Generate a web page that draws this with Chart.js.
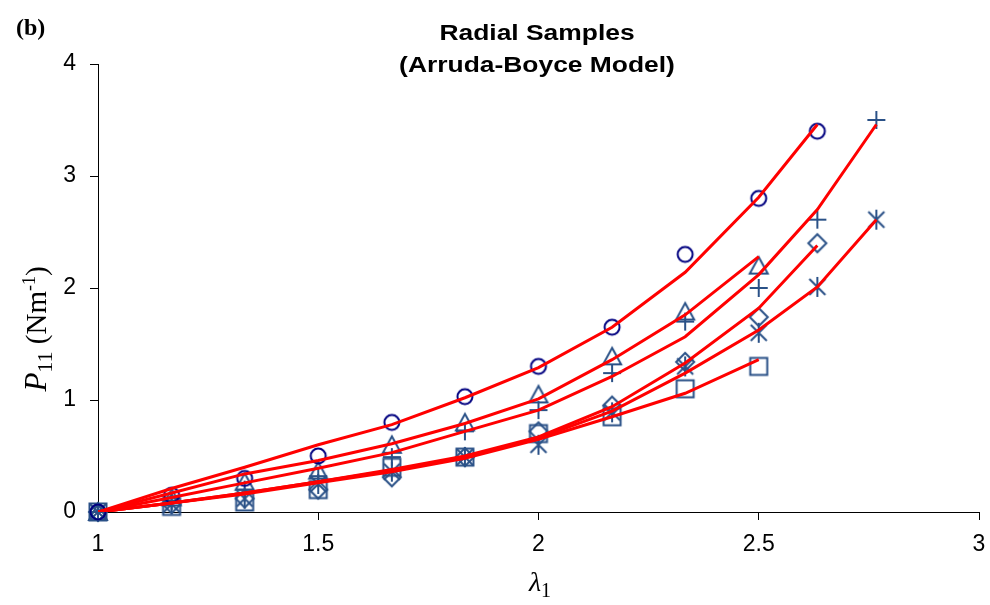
<!DOCTYPE html>
<html>
<head>
<meta charset="utf-8">
<script src="https://cdn.jsdelivr.net/npm/chart.js@4"></script>
<style>
  html, body { margin: 0; padding: 0; background: #fff; }
  #wrap { width: 990px; height: 605px; position: relative; }
</style>
</head>
<body>
<div id="wrap"><canvas id="myChart" width="990" height="605"></canvas></div>
<script>
// stretch ratio lambda_1 for each loading step
const lambdas = [1, 1.167, 1.333, 1.5, 1.667, 1.833, 2, 2.167, 2.333, 2.5, 2.633, 2.767];
const xTicks = [1, 1.5, 2, 2.5, 3];
const yTicks = [0, 1, 2, 3, 4];

// measured P11 (N/m) for each radial sample
const sampleCircle   = [0, 0.15, 0.30, 0.50, 0.80, 1.03, 1.30, 1.65, 2.30, 2.80, 3.40];
const sampleTriangle = [0, 0.13, 0.27, 0.37, 0.60, 0.80, 1.05, 1.39, 1.79, 2.20];
const samplePlus     = [0, 0.10, 0.20, 0.32, 0.49, 0.72, 0.91, 1.24, 1.70, 2.00, 2.61, 3.50];
const sampleDiamond  = [0, 0.07, 0.12, 0.20, 0.31, 0.49, 0.72, 0.95, 1.34, 1.74, 2.40];
const sampleStar     = [0, 0.07, 0.12, 0.25, 0.36, 0.49, 0.60, 0.89, 1.30, 1.60, 2.01, 2.61];
const sampleSquare   = [0, 0.05, 0.09, 0.20, 0.40, 0.49, 0.70, 0.85, 1.10, 1.30];

// Arruda-Boyce model fits
const fitCircle   = [0, 0.21, 0.40, 0.60, 0.78, 1.02, 1.29, 1.65, 2.14, 2.81, 3.46];
const fitTriangle = [0, 0.17, 0.34, 0.46, 0.61, 0.79, 1.01, 1.36, 1.76, 2.28];
const fitPlus     = [0, 0.13, 0.26, 0.39, 0.53, 0.72, 0.91, 1.21, 1.565, 2.12, 2.70, 3.46];
const fitDiamond  = [0, 0.08, 0.17, 0.27, 0.38, 0.50, 0.67, 0.94, 1.33, 1.82, 2.38];
const fitStar     = [0, 0.08, 0.17, 0.27, 0.37, 0.49, 0.66, 0.90, 1.24, 1.625, 2.01, 2.61];
const fitSquare   = [0, 0.08, 0.16, 0.26, 0.36, 0.48, 0.65, 0.85, 1.06, 1.36];

const navy = '#000080';
const steel = '#2a5187';

// hollow marker images, excel style
function makeMarker(shape, color) {
  const c = document.createElement('canvas');
  c.width = 24; c.height = 24;
  const g = c.getContext('2d');
  const m = 12;
  g.strokeStyle = color;
  g.lineWidth = 2;
  g.beginPath();
  switch (shape) {
    case 'circle':
      g.arc(m, m, 7.5, 0, Math.PI * 2);
      break;
    case 'triangle':
      g.moveTo(m, m - 8.5); g.lineTo(m + 9, m + 8); g.lineTo(m - 9, m + 8); g.closePath();
      break;
    case 'plus':
      g.moveTo(m - 9, m); g.lineTo(m + 9, m); g.moveTo(m, m - 9); g.lineTo(m, m + 9);
      break;
    case 'diamond':
      g.moveTo(m, m - 9); g.lineTo(m + 9, m); g.lineTo(m, m + 9); g.lineTo(m - 9, m); g.closePath();
      break;
    case 'square':
      g.rect(m - 8.5, m - 8.5, 17, 17);
      break;
    case 'star':
      g.moveTo(m - 8, m - 8); g.lineTo(m + 8, m + 8);
      g.moveTo(m + 8, m - 8); g.lineTo(m - 8, m + 8);
      g.moveTo(m, m - 10); g.lineTo(m, m + 10);
      break;
  }
  g.stroke();
  return c;
}

const pts = vals => vals.map((v, i) => ({ x: lambdas[i], y: v }));

function fitSet(vals) {
  return {
    data: pts(vals), showLine: true, borderColor: '#ff0000', borderWidth: 3,
    pointRadius: 0, tension: 0, fill: false, order: 0
  };
}
function sampleSet(vals, shape, color) {
  return {
    data: pts(vals), showLine: false, pointStyle: makeMarker(shape, color),
    pointRadius: 10, order: 1, clip: false
  };
}

// text made of runs (sub/superscripts), centred on x
function drawRuns(ctx, runs, x, y) {
  let total = 0;
  runs.forEach(r => { ctx.font = r.font; total += ctx.measureText(r.text).width; });
  let cx = x - total / 2;
  ctx.textAlign = 'left';
  runs.forEach(r => {
    ctx.font = r.font;
    ctx.fillText(r.text, cx, y + (r.dy || 0));
    cx += ctx.measureText(r.text).width;
  });
}

const labels = {
  id: 'labels',
  afterDraw(chart) {
    const ctx = chart.ctx;
    ctx.save();
    ctx.fillStyle = '#000';
    ctx.textBaseline = 'alphabetic';
    ctx.font = 'bold 24px "Liberation Serif"';
    ctx.textAlign = 'left';
    ctx.fillText('(b)', 16, 35);

    // title, slightly wide lettering
    ctx.save();
    ctx.translate(537, 0);
    ctx.scale(1.2, 1);
    ctx.font = 'bold 22px "Liberation Sans"';
    ctx.textAlign = 'center';
    ctx.fillText('Radial Samples', 0, 40);
    ctx.fillText('(Arruda-Boyce Model)', 0, 72);
    ctx.restore();

    drawRuns(ctx, [
      { text: 'λ', font: 'italic 28px "Liberation Serif"' },
      { text: '1', font: '20px "Liberation Serif"', dy: 6 }
    ], 540, 591);

    ctx.translate(46, 329);
    ctx.rotate(-Math.PI / 2);
    drawRuns(ctx, [
      { text: 'P', font: 'italic 31px "Liberation Serif"' },
      { text: '11', font: '22px "Liberation Serif"', dy: 6 },
      { text: ' (Nm', font: '29px "Liberation Serif"' },
      { text: '-1', font: '18px "Liberation Serif"', dy: -11 },
      { text: ')', font: '29px "Liberation Serif"' }
    ], 0, 0);
    ctx.restore();
  }
};

const ctx = document.getElementById('myChart');
new Chart(ctx, {
  type: 'scatter',
  data: {
    datasets: [
      fitSet(fitCircle), fitSet(fitTriangle), fitSet(fitPlus),
      fitSet(fitDiamond), fitSet(fitStar), fitSet(fitSquare),
      sampleSet(sampleCircle, 'circle', navy),
      sampleSet(sampleTriangle, 'triangle', steel),
      sampleSet(samplePlus, 'plus', steel),
      sampleSet(sampleDiamond, 'diamond', steel),
      sampleSet(sampleStar, 'star', steel),
      sampleSet(sampleSquare, 'square', steel)
    ]
  },
  options: {
    responsive: false,
    animation: false,
    layout: { padding: { left: 0, right: 10, top: 64, bottom: 0 } },
    plugins: { legend: { display: false }, tooltip: { enabled: false } },
    scales: {
      x: {
        type: 'linear', min: 1, max: 3,
        afterBuildTicks: s => { s.ticks = xTicks.map(v => ({ value: v })); },
        afterFit: s => { s.height = 93; s.paddingLeft = 0; s.paddingRight = 0; },
        grid: { drawOnChartArea: false, tickLength: 8, tickColor: '#000', color: '#000' },
        border: { color: '#000', width: 1 },
        ticks: {
          color: '#000', padding: 11, maxRotation: 0,
          font: { family: 'Liberation Sans', size: 23 },
          callback: v => String(v)
        }
      },
      y: {
        min: 0, max: 4,
        afterBuildTicks: s => { s.ticks = yTicks.map(v => ({ value: v })); },
        afterFit: s => { s.width = 98; s.paddingTop = 0; s.paddingBottom = 0; },
        grid: { drawOnChartArea: false, tickLength: 8, tickColor: '#000', color: '#000' },
        border: { color: '#000', width: 1 },
        ticks: {
          color: '#000', padding: 14,
          font: { family: 'Liberation Sans', size: 23 },
          callback: v => String(v)
        }
      }
    }
  },
  plugins: [labels]
});
</script>
</body>
</html>
